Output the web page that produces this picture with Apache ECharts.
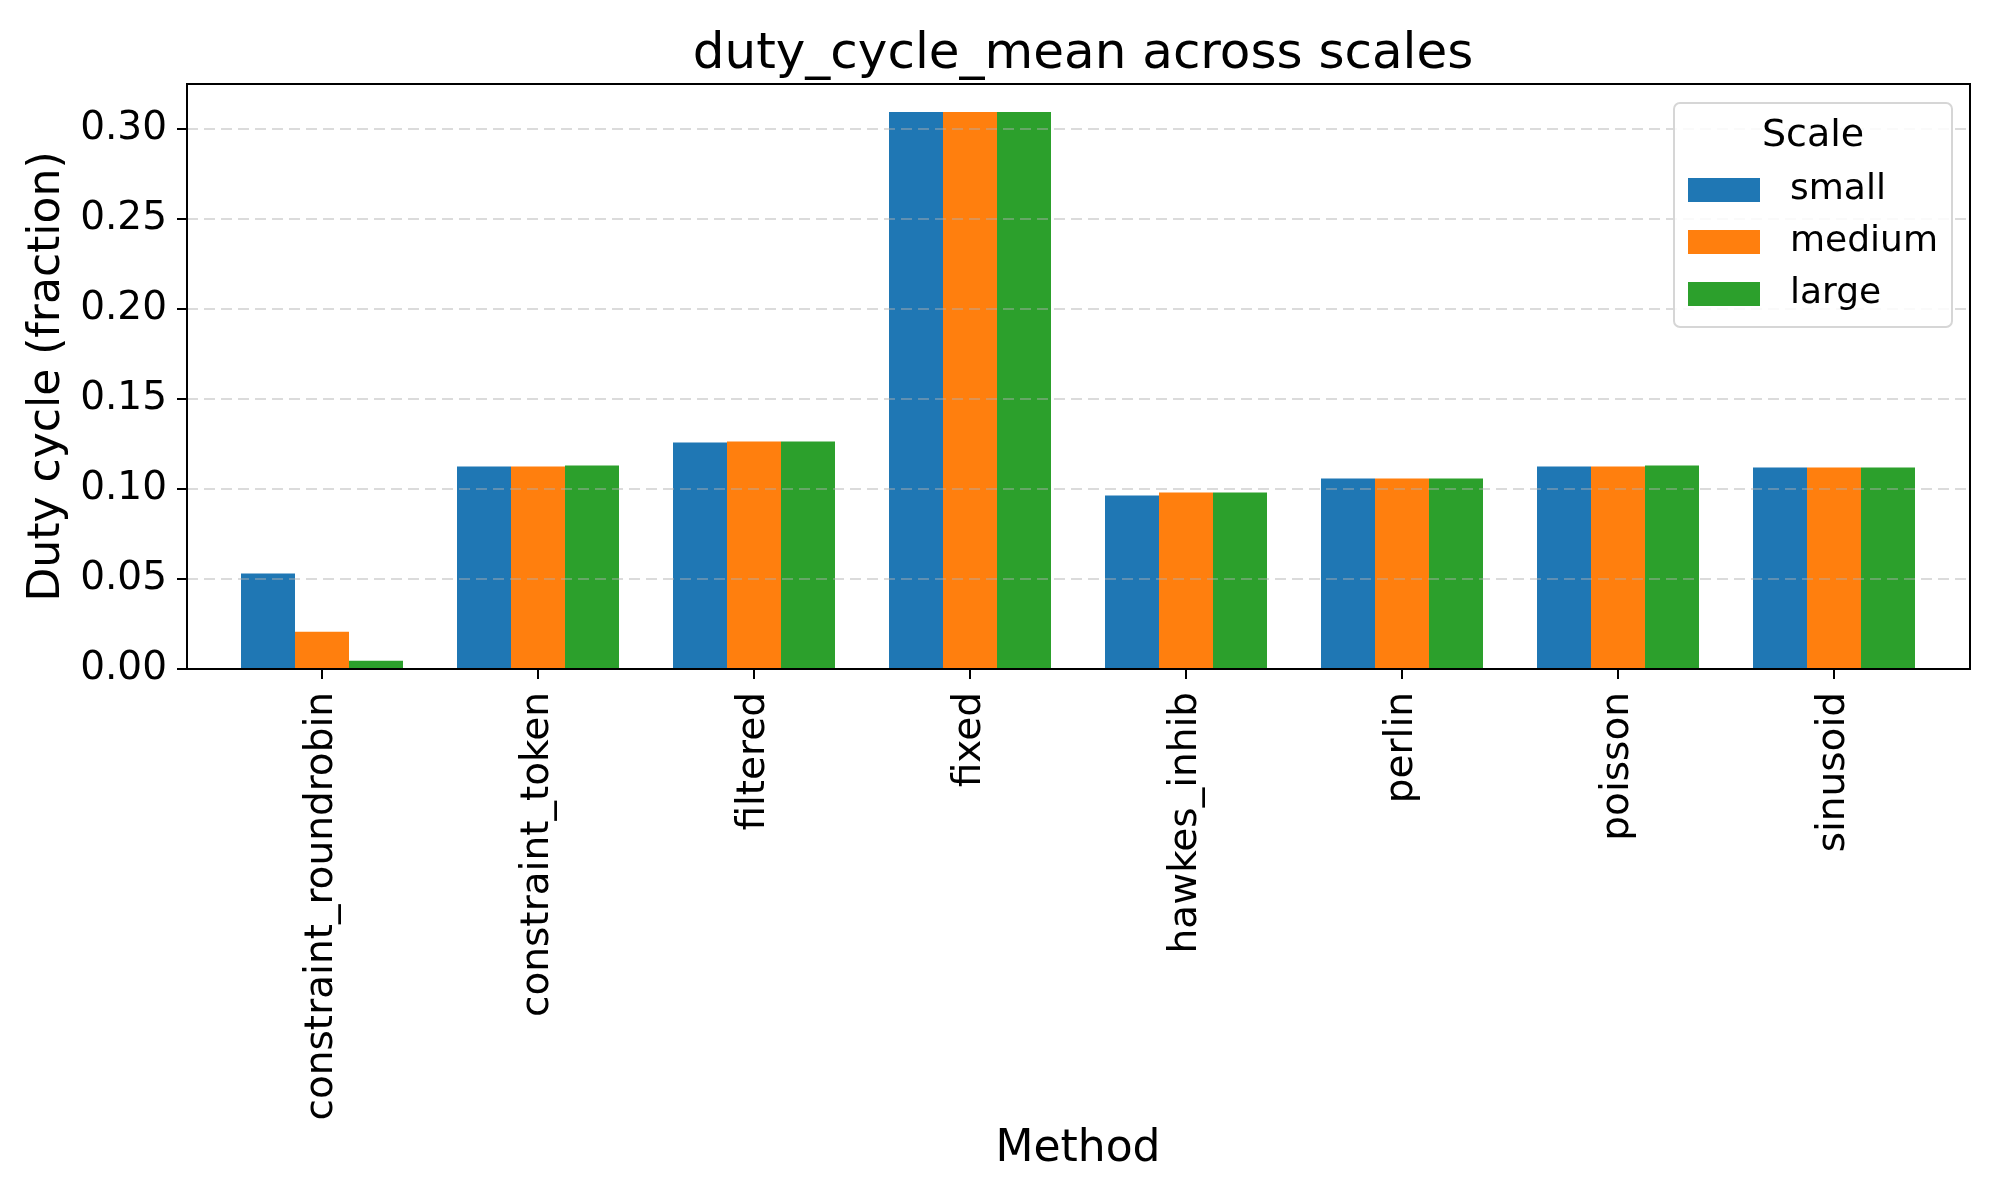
<!DOCTYPE html>
<html>
<head>
<meta charset="utf-8">
<script src="https://cdn.jsdelivr.net/npm/echarts@6/dist/echarts.min.js"></script>
<style>html,body{margin:0;padding:0;background:#fff}#c{width:2000px;height:1200px}</style>
</head>
<body>
<div id="c"></div>
<script>
const methods = ['constraint_roundrobin','constraint_token','filtered','fixed','hawkes_inhib','perlin','poisson','sinusoid'];
const scaleNames = ['small','medium','large'];
const smallVals  = [0.0530, 0.1125, 0.1259, 0.3094, 0.0964, 0.1059, 0.1125, 0.1120];
const mediumVals = [0.0207, 0.1125, 0.1264, 0.3094, 0.0981, 0.1059, 0.1125, 0.1120];
const largeVals  = [0.0046, 0.1131, 0.1264, 0.3094, 0.0981, 0.1059, 0.1131, 0.1120];
const yTicks = [0, 0.05, 0.10, 0.15, 0.20, 0.25, 0.30];
const yMax = 0.325;
const colors = ['#1f77b4','#ff7f0e','#2ca02c'];
const FONT = 'DejaVu Sans';

const chart = echarts.init(document.getElementById('c'), null, {renderer:'canvas'});
const seriesVals = [smallVals, mediumVals, largeVals];
const series = scaleNames.map((n,i)=>({
  name: n, type:'bar', xAxisIndex:1, yAxisIndex:1,
  data: seriesVals[i], barWidth:54, barGap:'0%',
  itemStyle:{color: colors[i]}, z:2
}));

chart.setOption({
  animation:false,
  textStyle:{fontFamily:FONT},
  title:{text:'duty_cycle_mean across scales', left:1078, textAlign:'center', top:25,
    textStyle:{fontFamily:FONT, fontSize:50, fontWeight:'normal', color:'#000'}},
  grid:[
    {left:187, top:84, width:1783, height:585, show:true, borderColor:'#000', borderWidth:2, backgroundColor:'transparent', z:6},
    {left:214, top:84, width:1728, height:585}
  ],
  xAxis:[
    {gridIndex:0, type:'value', min:0, max:1, show:false},
    {gridIndex:1, type:'category', data:methods,
      axisLine:{show:false},
      axisTick:{show:true, alignWithLabel:true, length:10, lineStyle:{color:'#000', width:2}},
      axisLabel:{rotate:90, interval:0, fontSize:39, color:'#000', margin:23, fontFamily:FONT},
      name:'Method', nameLocation:'middle', nameGap:459,
      nameTextStyle:{fontSize:44, color:'#000', fontFamily:FONT}}
  ],
  yAxis:[
    {gridIndex:0, type:'value', min:0, max:yMax, interval:0.05, z:5,
      axisLine:{show:false},
      axisTick:{show:true, length:10, lineStyle:{color:'#000', width:2}, customValues:yTicks},
      axisLabel:{fontSize:39, color:'#000', margin:20, fontFamily:FONT, customValues:yTicks,
        formatter:v=>v.toFixed(2)},
      splitLine:{show:true, lineStyle:{color:'rgba(176,176,176,0.45)', width:2, type:[11,6]}},
      name:'Duty cycle (fraction)', nameLocation:'middle', nameGap:114,
      nameTextStyle:{fontSize:44, color:'#000', fontFamily:FONT}},
    {gridIndex:1, type:'value', min:0, max:yMax, show:false}
  ],
  legend:{
    data:scaleNames, orient:'vertical', left:1688, top:172, padding:0,
    itemWidth:72, itemHeight:24, itemGap:16, icon:'rect', z:20,
    textStyle:{fontSize:36, color:'#000', fontFamily:FONT, padding:[0,0,0,25]}
  },
  graphic:[
    {type:'rect', z:15, shape:{x:1674, y:103, width:278, height:224, r:6},
      style:{fill:'rgba(255,255,255,0.85)', stroke:'#d6d6d6', lineWidth:2}},
    {type:'text', z:16, x:1813, y:136,
      style:{text:'Scale', fontSize:38, fontFamily:FONT, fill:'#000', align:'center', verticalAlign:'middle'}}
  ],
  series: series
});
</script>
</body>
</html>
